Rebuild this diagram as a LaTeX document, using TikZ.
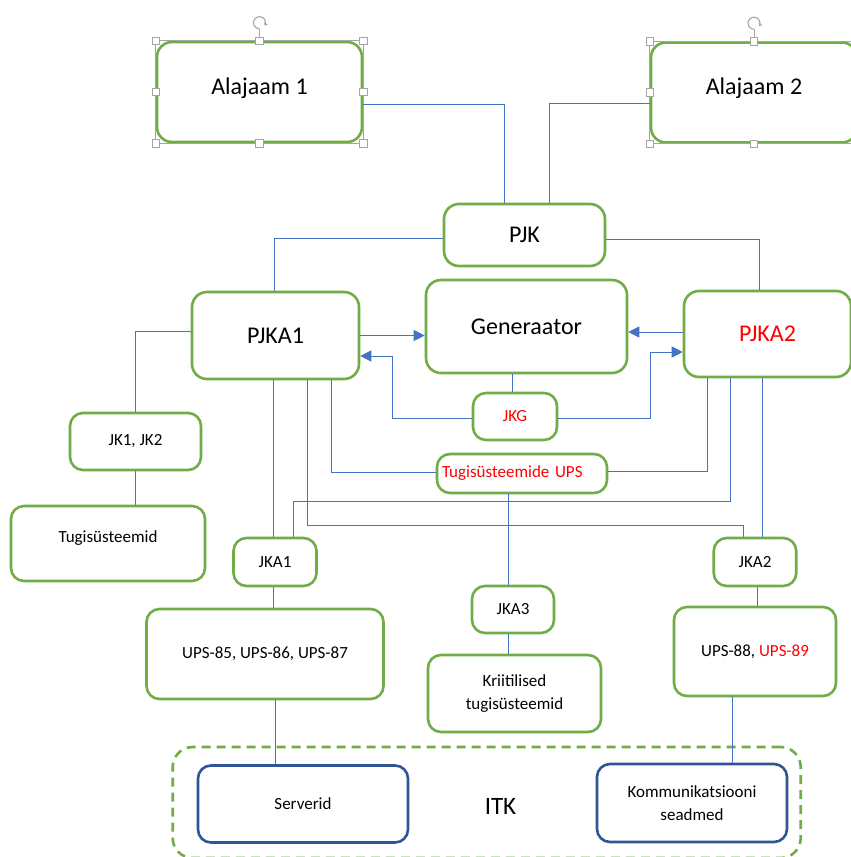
\documentclass[tikz,border=0pt]{standalone}
\usepackage{fontspec}
\setmainfont{Carlito}
\usetikzlibrary{arrows.meta, positioning}
\definecolor{boxGreen}{RGB}{112,173,71}
\definecolor{boxBlue}{RGB}{47,85,151}
\definecolor{wireBlue}{RGB}{68,114,196}
\definecolor{handleGray}{RGB}{165,165,165}
\definecolor{alertRed}{RGB}{255,0,0}
\tikzstyle{block} = [rectangle, rounded corners=13pt, draw=boxGreen, line width=2.6pt, fill=white, align=center, inner sep=0pt, font=\fontsize{17}{22.5}\selectfont]
\tikzstyle{bigblock} = [block, rounded corners=15pt, font=\fontsize{24}{29}\selectfont]
\tikzstyle{itblock} = [block, draw=boxBlue]
\tikzstyle{groupbox} = [rectangle, rounded corners=20pt, draw=boxGreen, line width=2.6pt, dash pattern=on 9pt off 6pt]
\tikzstyle{link} = [wireBlue, line width=0.9pt]
\tikzstyle{arrow} = [link, -{Triangle[length=11pt,width=11pt]}]
\tikzstyle{handle} = [rectangle, draw=handleGray, fill=white, line width=0.7pt, minimum size=7.5pt, inner sep=0pt]
\tikzstyle{selframe} = [handleGray, line width=0.7pt]

\begin{document}
\begin{tikzpicture}[x=1pt, y=-1pt]
    \useasboundingbox (0,0) rectangle (851,857);
    \clip (0,0) rectangle (851,857);
    \fill [white] (0,0) rectangle (851,857);

    % substations and main switchboard
    \node (ala1) [bigblock, minimum width=205pt, minimum height=100pt, text height=17pt, text depth=13pt] at (259.5,92) {Alajaam 1};
    \node (ala2) [bigblock, minimum width=206pt, minimum height=100pt, text height=17pt, text depth=13pt] at (754,92.5) {Alajaam 2};
    \node (pjk) [bigblock, minimum width=161pt, minimum height=62pt] at (524.5,235) {PJK};
    \node (pjka1) [bigblock, minimum width=167pt, minimum height=87pt] at (275.5,335.5) {PJKA1};
    \node (gen) [bigblock, minimum width=201pt, minimum height=93pt] at (526.5,326.5) {Generaator};
    \node (pjka2) [bigblock, minimum width=167pt, minimum height=86pt, text=alertRed] at (767.5,334) {PJKA2};
    \node (jkg) [block, minimum width=84pt, minimum height=47pt, text=alertRed] at (515,416.5) {JKG};
    \node (tups) [block, text=alertRed, text width=160pt, align=left, inner xsep=5pt, minimum height=39pt] at (522,473.5) {Tugisüsteemide UPS};

    % distribution level
    \node (jk12) [block, minimum width=131pt, minimum height=57pt] at (135.5,441.5) {JK1, JK2};
    \node (tugi) [block, minimum width=194pt, minimum height=75pt, text height=12pt, text depth=14pt] at (108,543.5) {Tugisüsteemid};
    \node (jka1) [block, minimum width=83pt, minimum height=48pt] at (275,562) {JKA1};
    \node (jka2) [block, minimum width=82.5pt, minimum height=48pt] at (755,562) {JKA2};
    \node (jka3) [block, minimum width=82pt, minimum height=47pt] at (513,609.5) {JKA3};
    \node (ups1) [block, minimum width=237pt, minimum height=90pt] at (265,654) {UPS-85, UPS-86, UPS-87};
    \node (ups2) [block, minimum width=162pt, minimum height=89pt] at (755,651.5) {UPS-88, \textcolor{alertRed}{UPS-89}};
    \node (krit) [block, minimum width=173pt, minimum height=77pt] at (514.5,693.5) {Kriitilised\\tugisüsteemid};

    % IT loads
    \node (itk) [groupbox, minimum width=628pt, minimum height=111pt] at (486.7,802.5) {};
    \node (itklabel) [font=\fontsize{25}{30}\selectfont] at (500.5,806) {ITK};
    \node (serv) [itblock, minimum width=210pt, minimum height=77pt] at (303,804) {Serverid};
    \node (komm) [itblock, minimum width=190pt, minimum height=78pt] at (692,803) {Kommunikatsiooni\\seadmed};

    % selection handles
    \foreach \n in {ala1, ala2} {
        \draw [selframe] (\n.north west) rectangle (\n.south east);
        \draw [selframe] (\n.north) -- ++(0,-12);
        \draw [selframe, line width=1.1pt, -{Stealth[length=3pt,width=4.5pt]}] ([yshift=18pt]\n.north) ++(-90:6pt) arc[start angle=-90, delta angle=-300, radius=6pt];
        \foreach \a [count=\i] in {north west, north, north east, west, east, south west, south, south east}
            \node (\n-h\i) [handle] at (\n.\a) {};
    }

    \draw [link] ([yshift=-12pt]ala1.east) -| ([xshift=-20.5pt]pjk.north);
    \draw [link] ([yshift=-11pt]ala2.west) -| ([xshift=24.5pt]pjk.north);
    \draw [link] ([yshift=-3.5pt]pjk.west) -| ([xshift=-1.5pt]pjka1.north);
    \draw [link] ([yshift=-4pt]pjk.east) -| ([xshift=-8.5pt]pjka2.north);

    \draw [arrow] (pjka1.east) -- (pjka1.east -| gen.west);
    \draw [arrow] ([yshift=2pt]pjka2.west) -- ([yshift=2pt]pjka2.west -| gen.east);
    \draw [arrow] ([yshift=-1.5pt]jkg.west) -- ++(-79,0) |- ([yshift=-20.5pt]pjka1.east);
    \draw [arrow] ([yshift=-1.5pt]jkg.east) -- ++(92.5,0) |- ([yshift=-18pt]pjka2.west);
    \draw [link] ([xshift=-3pt]jkg.north) -- ([xshift=-3pt]jkg.north |- gen.south);

    \draw [link] ([xshift=56pt]pjka1.south) |- ([yshift=1.2pt]tups.west);
    \draw [link] ([xshift=-60pt]pjka2.south) |- ([yshift=2.5pt]tups.east);
    \draw [link] ([xshift=-13.5pt]tups.south) -- ([xshift=-13.5pt]tups.south |- jka3.north);
    \draw [link] ([xshift=-2pt]pjka1.south) -- ([xshift=-2pt]pjka1.south |- jka1.north);
    \draw [link] ([xshift=32pt]pjka1.south) |- ([xshift=-12pt, yshift=11pt]jka2.north) -- ([xshift=-12pt]jka2.north);
    \draw [link] ([xshift=-37.5pt]pjka2.south) |- ([xshift=18pt, yshift=35pt]jka1.north) -- ([xshift=18pt]jka1.north);
    \draw [link] ([xshift=-5pt]pjka2.south) -- ([xshift=-5pt]pjka2.south |- jka2.north);

    \draw [link] ([yshift=4.5pt]pjka1.west) -| (jk12.north);
    \draw [link] (jk12.south) -- (jk12.south |- tugi.north);
    \draw [link] ([xshift=-1.5pt]jka1.south) -- ([xshift=-1.5pt]jka1.south |- ups1.north);
    \draw [link] ([xshift=2pt]jka2.south) -- ([xshift=2pt]jka2.south |- ups2.north);
    \draw [link] ([xshift=-4.5pt]jka3.south) -- ([xshift=-4.5pt]jka3.south |- krit.north);
    \draw [link] ([xshift=10pt]ups1.south) -- ([xshift=10pt]ups1.south |- serv.north);
    \draw [link] ([xshift=-22.5pt]ups2.south) -- ([xshift=-22.5pt]ups2.south |- komm.north);
\end{tikzpicture}
\end{document}
